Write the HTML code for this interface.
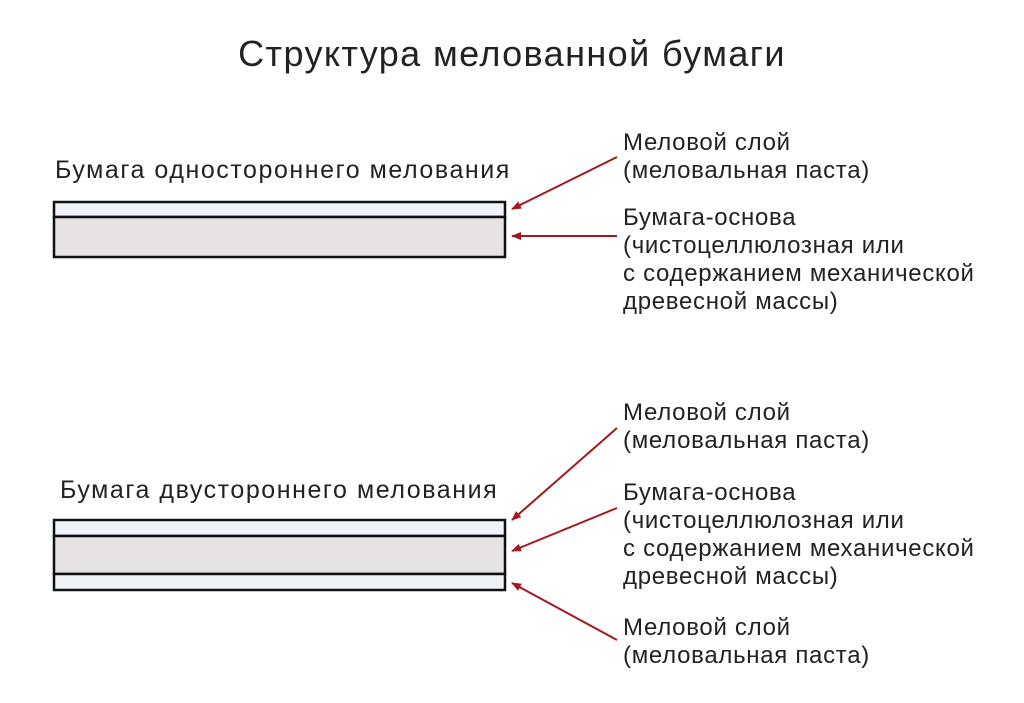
<!DOCTYPE html>
<html><head><meta charset="utf-8"><style>
body{margin:0;width:1024px;height:703px;background:#fff;overflow:hidden;position:relative;font-family:"Liberation Sans","DejaVu Sans",sans-serif;color:#222}
.t{position:absolute;white-space:nowrap;font-size:24px;line-height:28px;letter-spacing:0.7px}
.l{font-size:25px;letter-spacing:1.55px}
</style></head><body>
<div class="t" style="left:0;width:1024px;text-align:center;top:34px;font-size:36px;line-height:40px;letter-spacing:1.4px">Структура мелованной бумаги</div>
<div class="t l" style="left:55px;top:156px">Бумага одностороннего мелования</div>
<div class="t l" style="left:60px;top:476px">Бумага двустороннего мелования</div>
<div class="t" style="left:623px;top:129px">Меловой слой<br>(меловальная паста)</div>
<div class="t" style="left:623px;top:204px">Бумага-основа<br>(чистоцеллюлозная или<br>с содержанием механической<br>древесной массы)</div>
<div class="t" style="left:623px;top:399px">Меловой слой<br>(меловальная паста)</div>
<div class="t" style="left:623px;top:479px">Бумага-основа<br>(чистоцеллюлозная или<br>с содержанием механической<br>древесной массы)</div>
<div class="t" style="left:623px;top:614px">Меловой слой<br>(меловальная паста)</div>
<svg width="1024" height="703" style="position:absolute;left:0;top:0">
<defs><marker id="a" markerWidth="10" markerHeight="8" refX="9" refY="4" orient="auto" markerUnits="userSpaceOnUse" viewBox="0 0 10 8"><path d="M0,0L10,4L0,8z" fill="#a3171f"/></marker></defs>
<rect x="54" y="202" width="451" height="15" fill="#eef3f7" stroke="#111" stroke-width="2.5"/>
<rect x="54" y="217" width="451" height="40" fill="#e7e2e2" stroke="#111" stroke-width="2.5"/>
<rect x="54" y="520" width="451" height="16" fill="#eef3f7" stroke="#111" stroke-width="2.5"/>
<rect x="54" y="536" width="451" height="38" fill="#e7e2e2" stroke="#111" stroke-width="2.5"/>
<rect x="54" y="574" width="451" height="16" fill="#eef3f7" stroke="#111" stroke-width="2.5"/>
<g stroke="#a3171f" stroke-width="2" marker-end="url(#a)">
<line x1="617" y1="157" x2="512" y2="209"/>
<line x1="617" y1="236" x2="512" y2="236"/>
<line x1="617" y1="428" x2="512" y2="520"/>
<line x1="617" y1="508" x2="512" y2="551"/>
<line x1="617" y1="640" x2="512" y2="583"/>
</g>
</svg>
</body></html>
